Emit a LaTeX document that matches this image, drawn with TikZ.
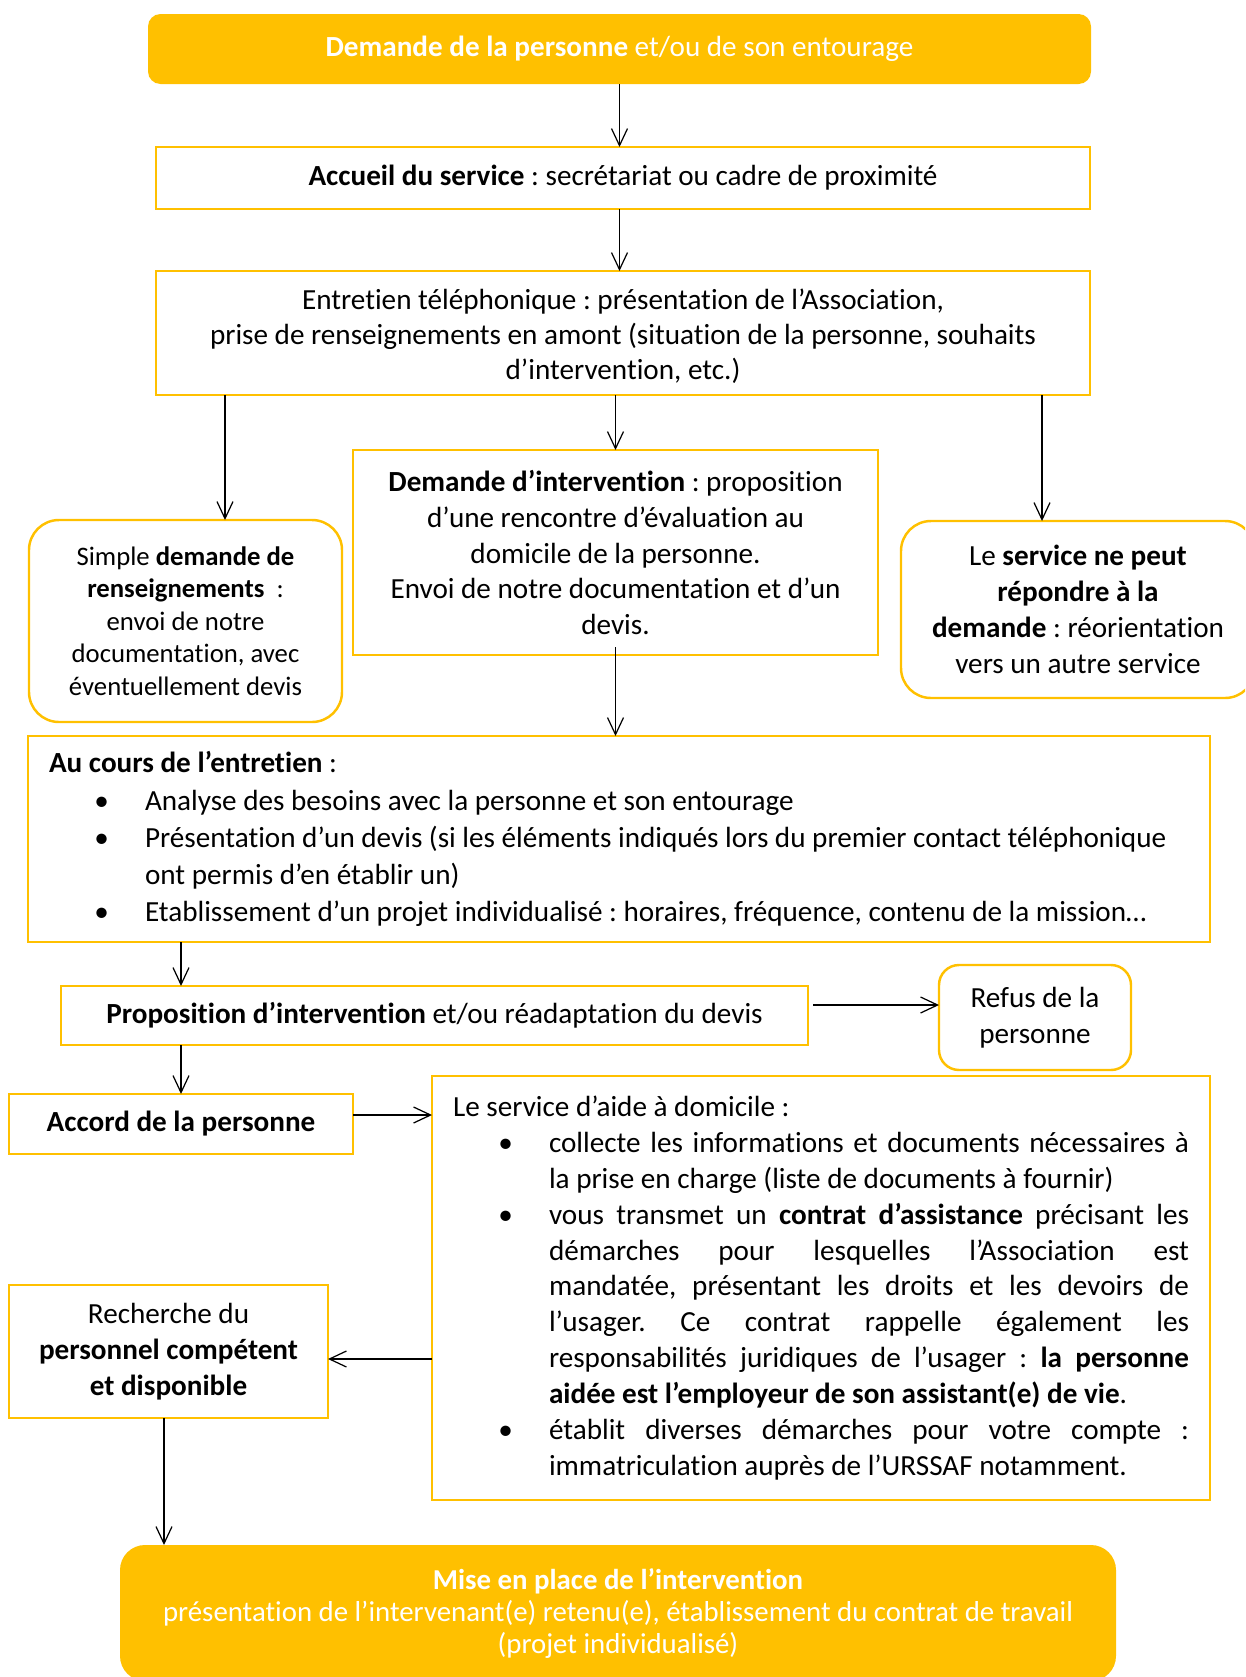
\documentclass[tikz,border=0pt]{standalone}
\usepackage{fontspec}
\setmainfont{Carlito}[RawFeature={-liga;-clig;-calt;-dlig}]
\usepackage{enumitem}
\usetikzlibrary{arrows.meta,positioning}
\definecolor{jaune}{HTML}{FFC000}
\newcommand{\texte}{\fontsize{16.6pt}{20.4pt}\selectfont}
\newcommand{\petit}{\fontsize{15.2pt}{18.5pt}\selectfont}
\setlist[itemize]{label=\textbullet,leftmargin=1.92cm,labelsep=0.72cm,itemsep=0pt,topsep=0pt,parsep=0pt,partopsep=0pt}
\frenchspacing
\hyphenpenalty=10000
\exhyphenpenalty=10000

\begin{document}
\begin{tikzpicture}[font=\texte,
  cadre/.style={rectangle,draw=jaune,line width=1.4pt,outer sep=0pt,align=center},
  arrondi/.style={cadre,rounded corners=0.6cm},
  plein/.style={rectangle,fill=jaune,text=white,outer sep=0pt,align=center},
  fleche/.style={-{Straight Barb[length=0.34cm,width=0.32cm]},line width=0.7pt}]
\useasboundingbox (0,0) rectangle (24.9,-33.54);
\clip (0,0) rectangle (24.9,-33.54);

\node (demande) [plein,rounded corners=0.25cm,minimum width=18.86cm,minimum height=1.4cm] at (12.39,-0.98) {\textbf{Demande de la personne} et/ou de son entourage};
\node (accueil) [cadre,below=1.26cm of demande,xshift=0.07cm,minimum width=18.68cm,minimum height=1.24cm] {\textbf{Accueil du service} : secrétariat ou cadre de proximité};
\node (entretien) [cadre,below=1.24cm of accueil,minimum width=18.68cm,minimum height=2.48cm,font=\fontsize{16.6pt}{19.8pt}\selectfont] {\rule{0pt}{0.55cm}Entretien téléphonique : présentation de l’Association,\\ prise de renseignements en amont (situation de la personne, souhaits\\ d’intervention, etc.)};

\node (milieu) [cadre,below=1.1cm of entretien,xshift=-0.15cm,minimum width=10.5cm,minimum height=4.1cm] {\textbf{Demande d’intervention} : proposition\\ d’une rencontre d’évaluation au\\ domicile de la personne.\\ Envoi de notre documentation et d’un\\ devis.};
\node (gauche) [arrondi,left=0.22cm of milieu,yshift=-1.37cm,minimum width=6.26cm,minimum height=4.04cm,font=\petit] {Simple \textbf{demande de}\\ \textbf{renseignements}\ \ :\\ envoi de notre\\ documentation, avec\\ éventuellement devis};
\node (droite) [arrondi,right=0.46cm of milieu,yshift=-1.14cm,minimum width=7.08cm,minimum height=3.54cm] {Le \textbf{service ne peut}\\ \textbf{répondre à la}\\ \textbf{demande} : réorientation\\ vers un autre service};

\node (aucours) [cadre,below=1.62cm of milieu,xshift=0.07cm,text width=22.8cm,inner xsep=0.42cm,minimum height=4.12cm,align=flush left,font=\fontsize{16.6pt}{21.1pt}\selectfont] {\textbf{Au cours de l’entretien} :
\begin{itemize}
\item Analyse des besoins avec la personne et son entourage
\item Présentation d’un devis (si les éléments indiqués lors du premier contact téléphonique\\ ont permis d’en établir un)
\item Etablissement d’un projet individualisé : horaires, fréquence, contenu de la mission…
\end{itemize}};

\node (proposition) [cadre,below=0.88cm of aucours,xshift=-3.69cm,minimum width=14.94cm,minimum height=1.18cm] {\textbf{Proposition d’intervention} et/ou réadaptation du devis};
\node (refus) [arrondi,rounded corners=0.4cm,right=2.62cm of proposition,yshift=-0.04cm,minimum width=3.84cm,minimum height=2.1cm] {Refus de la\\ personne};
\node (accord) [cadre,below=0.98cm of proposition,xshift=-5.07cm,minimum width=6.88cm,minimum height=1.2cm] {\textbf{Accord de la personne}};

\node (service) [cadre,right=1.58cm of accord,yshift=-3.28cm,text width=14.72cm,inner xsep=0.42cm,minimum height=8.48cm,align=justify] {Le service d’aide à domicile :
\begin{itemize}
\item collecte les informations et documents nécessaires à\linebreak la prise en charge (liste de documents à fournir)
\item vous transmet un \textbf{contrat d’assistance} précisant les\linebreak démarches pour lesquelles l’Association est\linebreak mandatée, présentant les droits et les devoirs de\linebreak l’usager. Ce contrat rappelle également les\linebreak responsabilités juridiques de l’usager : \textbf{la personne\linebreak aidée est l’employeur de son assistant(e) de vie}.
\item établit diverses démarches pour votre compte :\linebreak immatriculation auprès de l’URSSAF notamment.
\end{itemize}};
\node (recherche) [cadre,below=2.62cm of accord,xshift=-0.25cm,minimum width=6.38cm,minimum height=2.66cm] {Recherche du\\ \textbf{personnel compétent}\\ \textbf{et disponible}};

\node (mise) [plein,rounded corners=0.5cm,below=2.54cm of recherche,xshift=8.99cm,minimum width=19.92cm,minimum height=2.72cm,font=\fontsize{16.4pt}{18.2pt}\selectfont] {\textbf{Mise en place de l’intervention}\\ présentation de l’intervenant(e) retenu(e), établissement du contrat de travail\\ (projet individualisé)};

\draw[fleche] (demande.south) -- (accueil.north -| demande.south);
\draw[fleche] (accueil.south -| demande.south) -- (entretien.north -| demande.south);
\draw[fleche] ([xshift=0.79cm]gauche.north |- entretien.south) -- ([xshift=0.79cm]gauche.north);
\draw[fleche] (milieu.north |- entretien.south) -- (milieu.north);
\draw[fleche] ([xshift=-0.72cm]droite.north |- entretien.south) -- ([xshift=-0.72cm]droite.north);
\draw[fleche] ([yshift=0.16cm]milieu.south) -- (milieu.south |- aucours.north);

\draw[fleche] (accord.north |- aucours.south) -- (accord.north |- proposition.north);
\draw[fleche] ([xshift=0.1cm,yshift=0.21cm]proposition.east) -- ([yshift=0.25cm]refus.west);
\draw[fleche] (accord.north |- proposition.south) -- (accord.north);
\draw[fleche] ([yshift=0.18cm]accord.east) -- ([yshift=0.18cm]accord.east -| service.west);
\draw[fleche] ([yshift=-0.15cm]service.west |- recherche.east) -- ([yshift=-0.15cm]recherche.east);
\draw[fleche] ([xshift=-0.09cm]recherche.south) -- ([xshift=-0.09cm]recherche.south |- mise.north);
\end{tikzpicture}
\end{document}
